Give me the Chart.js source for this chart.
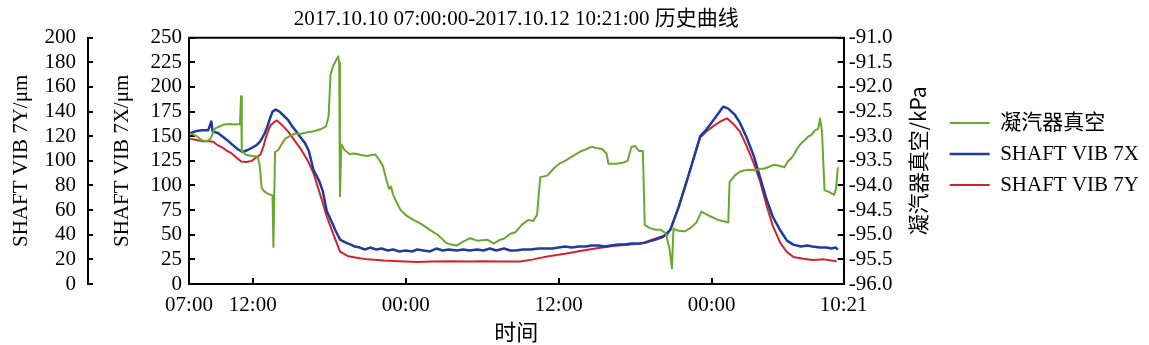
<!DOCTYPE html>
<html lang="zh">
<head>
<meta charset="UTF-8">
<title>历史曲线</title>
<script src="https://cdn.jsdelivr.net/npm/chart.js"></script>
<style>
  body { margin: 0; background: #fff; }
  canvas { display: block; }
</style>
</head>
<body>
<canvas id="chart" width="1149" height="345"></canvas>
<script>
// time axis: hours after 2017.10.10 07:00
const tickHours = [0, 5, 17, 29, 41, 51.35];
const tickLabels = ['07:00', '12:00', '00:00', '12:00', '00:00', '10:21'];

// 凝汽器真空 (kPa)
const vacHours = [0.2, 0.6, 1.0, 1.4, 1.7, 2.0, 2.4, 2.8, 3.2, 3.6, 4.0, 4.08, 4.14, 4.5, 5.0, 5.4, 5.55, 5.7, 5.9, 6.2, 6.55, 6.62, 6.75, 7.0, 7.3, 7.55, 7.9, 8.3, 8.8, 9.3, 9.8, 10.3, 10.75, 10.95, 11.1, 11.3, 11.55, 11.7, 11.78, 11.84, 11.95, 12.2, 12.6, 13.0, 13.5, 14.0, 14.3, 14.6, 14.9, 15.2, 15.5, 15.7, 15.85, 16.0, 16.3, 16.6, 17.0, 17.6, 18.2, 18.9, 19.5, 20.2, 20.6, 21.0, 21.5, 22.05, 22.6, 23.4, 23.9, 24.4, 24.7, 25.2, 25.6, 26.1, 26.6, 27.0, 27.3, 27.55, 28.1, 28.7, 29.1, 29.5, 30.0, 30.7, 31.1, 31.6, 31.9, 32.4, 32.75, 32.9, 33.5, 34.0, 34.4, 34.7, 35.0, 35.3, 35.6, 35.75, 36.1, 36.6, 37.0, 37.4, 37.7, 37.88, 38.0, 38.4, 38.9, 39.4, 39.8, 40.2, 40.7, 41.0, 41.5, 42.0, 42.3, 42.4, 42.8, 43.2, 43.6, 44.0, 44.4, 44.8, 45.1, 45.5, 45.9, 46.3, 46.7, 47.0, 47.2, 47.5, 47.7, 48.0, 48.3, 48.6, 48.8, 49.1, 49.35, 49.5, 49.65, 49.85, 50.2, 50.6, 50.75, 50.9];
const vacValues = [-92.95, -93.0, -93.08, -93.1, -93.05, -92.85, -92.8, -92.76, -92.75, -92.76, -92.75, -92.19, -93.3, -93.38, -93.4, -93.42, -93.6, -94.05, -94.12, -94.17, -94.2, -95.25, -93.32, -93.28, -93.15, -93.05, -93.0, -92.95, -92.95, -92.92, -92.9, -92.86, -92.8, -92.6, -91.75, -91.58, -91.45, -91.38, -91.5, -94.22, -93.17, -93.28, -93.36, -93.35, -93.38, -93.4, -93.38, -93.37, -93.47, -93.6, -93.9, -94.07, -94.02, -94.18, -94.35, -94.5, -94.6, -94.7, -94.78, -94.9, -95.0, -95.17, -95.2, -95.22, -95.14, -95.07, -95.12, -95.1, -95.18, -95.1, -95.08, -94.98, -94.95, -94.8, -94.7, -94.72, -94.6, -93.83, -93.8, -93.63, -93.55, -93.5, -93.42, -93.31, -93.27, -93.21, -93.24, -93.26, -93.35, -93.56, -93.56, -93.54, -93.5, -93.22, -93.2, -93.3, -93.3, -94.8, -94.86, -94.9, -94.9, -94.97, -95.3, -95.68, -94.88, -94.92, -94.93, -94.85, -94.75, -94.53, -94.6, -94.64, -94.7, -94.73, -94.75, -93.93, -93.8, -93.72, -93.69, -93.68, -93.69, -93.66, -93.66, -93.62, -93.58, -93.6, -93.63, -93.5, -93.46, -93.35, -93.25, -93.15, -93.08, -93.0, -92.98, -92.88, -92.85, -92.64, -92.9, -94.1, -94.13, -94.19, -94.07, -93.63];

// SHAFT VIB 7X (μm)
const vib7xHours = [0.1, 0.5, 1.0, 1.5, 1.75, 1.85, 2.3, 2.6, 3.0, 3.35, 3.8, 4.2, 4.6, 4.9, 5.3, 5.6, 5.9, 6.1, 6.35, 6.55, 6.8, 7.1, 7.5, 7.8, 8.1, 8.4, 8.8, 9.1, 9.4, 9.76, 10.2, 10.5, 10.8, 11.2, 11.5, 11.85, 12.3, 12.7, 13.0, 13.4, 13.8, 14.2, 14.7, 15.1, 15.6, 16.0, 16.5, 17.0, 17.5, 17.9, 18.4, 18.9, 19.4, 19.9, 20.4, 21.0, 21.5, 22.0, 22.6, 23.1, 23.6, 24.1, 24.7, 25.2, 25.6, 26.2, 26.8, 27.4, 28.0, 28.5, 29.0, 29.5, 30.0, 30.6, 31.1, 31.6, 32.1, 32.6, 33.1, 33.7, 34.2, 34.7, 35.3, 35.8, 36.3, 36.8, 37.2, 37.75, 38.4, 39.1, 39.6, 40.1, 40.6, 41.0, 41.4, 41.9, 42.3, 42.8, 43.2, 43.7, 44.3, 44.8, 45.3, 45.8, 46.4, 46.9, 47.4, 48.0, 48.5, 48.9, 49.5, 50.0, 50.4, 50.7, 50.9];
const vib7xValues = [153, 155, 156, 156, 165, 155, 153, 150, 146, 142, 137, 134, 136, 138, 141, 145, 152, 158, 168, 175, 177, 175, 170, 166, 160, 155, 148, 143, 135, 116, 105, 94, 74, 63, 54, 45, 42, 40, 38, 37, 35, 37, 35, 36, 34, 35, 33, 34, 33, 35, 34, 33, 36, 34, 35, 34, 35, 34, 35, 34, 36, 34, 36, 34, 34, 35, 35, 36, 36, 36, 37, 38, 37, 38, 38, 39, 39, 38, 39, 40, 40, 41, 41, 42, 44, 46, 48, 55, 78, 107, 128, 150, 157, 164, 171, 180, 178, 172, 164, 150, 130, 108, 86, 68, 54, 44, 40, 38, 39, 38, 37, 37, 36, 37, 35];

// SHAFT VIB 7Y (μm)
const vib7yHours = [0.1, 0.6, 1.0, 1.5, 1.9, 2.2, 2.6, 3.0, 3.35, 3.8, 4.1, 4.5, 4.92, 5.3, 5.6, 5.85, 6.0, 6.2, 6.4, 6.75, 6.9, 7.27, 7.8, 8.32, 8.84, 9.37, 9.76, 10.4, 10.8, 11.46, 11.85, 12.5, 13.4, 14.0, 15.3, 16.5, 17.9, 19.0, 20.5, 22.0, 23.1, 24.5, 26.0, 26.9, 28.2, 29.5, 30.8, 32.0, 33.4, 35.4, 36.5, 37.5, 37.8, 38.4, 39.1, 39.6, 40.1, 40.6, 41.1, 41.7, 42.2, 42.7, 43.2, 43.7, 44.3, 44.8, 45.3, 45.8, 46.4, 46.9, 47.4, 48.2, 48.9, 49.8, 50.4, 50.8];
const vib7yValues = [118, 117, 116, 116, 115.5, 113, 111, 108, 106, 102, 99.5, 99, 100, 103, 105, 112, 118, 124, 129, 132, 132.8, 129.4, 123.5, 116, 108.5, 99, 90, 69, 55, 36.6, 26.3, 22.5, 20.9, 20, 19, 18.5, 17.8, 18.2, 18.5, 18.3, 18.5, 18.2, 18.3, 19.8, 22.5, 24.5, 27, 29, 31, 32.6, 36.6, 40, 45, 62, 85, 103, 119, 124, 128, 132, 134.5, 130, 124, 113, 98, 83, 64, 47, 33, 26, 22, 20.5, 19.5, 20, 19, 18.5];

const serif = "'Liberation Serif', 'Noto Sans CJK SC', serif";
const cjk = "'Noto Sans CJK SC', sans-serif";

function toPoints(hours, values) {
  return hours.map((h, i) => ({ x: h, y: values[i] }));
}

// plot frame (top edge) and the right axis title, which reads bottom-to-top
const framePlugin = {
  id: 'frame',
  afterDraw(chart) {
    const { ctx, chartArea } = chart;
    ctx.save();
    ctx.strokeStyle = '#000';
    ctx.lineWidth = 2;
    ctx.beginPath();
    ctx.moveTo(chartArea.left - 1, chartArea.top);
    ctx.lineTo(chartArea.right + 1, chartArea.top);
    ctx.stroke();
    const s = chart.scales.yVac;
    ctx.translate(s.right - 22, (chartArea.top + chartArea.bottom) / 2);
    ctx.rotate(-Math.PI / 2);
    ctx.font = '21px ' + cjk;
    ctx.fillStyle = '#000';
    ctx.textAlign = 'center';
    ctx.textBaseline = 'middle';
    ctx.fillText('凝汽器真空/kPa', 0, 0);
    ctx.restore();
  }
};

function yAxis(opts) {
  return {
    type: 'linear',
    position: opts.position,
    weight: opts.weight,
    min: opts.min,
    max: opts.max,
    ticks: {
      stepSize: opts.step,
      autoSkip: false,
      padding: opts.padding,
      color: '#000',
      font: { family: serif, size: 21 },
      callback: opts.callback
    },
    grid: { drawOnChartArea: false, tickLength: opts.tick, color: '#000', lineWidth: 2 },
    border: { color: '#000', width: 2 },
    title: opts.title ? {
      display: true, text: opts.title, color: '#000',
      font: { family: serif, size: 21 },
      padding: { top: opts.titlePad, bottom: 0 }
    } : { display: false },
    afterFit: (s) => { s.width = opts.width; }
  };
}

new Chart(document.getElementById('chart'), {
  type: 'line',
  data: {
    datasets: [{
      label: '凝汽器真空',
      data: toPoints(vacHours, vacValues),
      yAxisID: 'yVac',
      borderColor: '#68a832',
      borderWidth: 2
    }, {
      label: 'SHAFT VIB 7X',
      data: toPoints(vib7xHours, vib7xValues),
      yAxisID: 'y7x',
      borderColor: '#1f3c9c',
      borderWidth: 2.5
    }, {
      label: 'SHAFT VIB 7Y',
      data: toPoints(vib7yHours, vib7yValues),
      yAxisID: 'y7y',
      borderColor: '#d0232b',
      borderWidth: 2
    }]
  },
  options: {
    responsive: false,
    animation: false,
    devicePixelRatio: 1,
    layout: { padding: 0 },
    elements: {
      point: { radius: 0, pointStyle: 'line' },
      line: { tension: 0, borderJoinStyle: 'round' }
    },
    scales: {
      x: {
        type: 'linear',
        position: 'bottom',
        min: 0,
        max: 51.35,
        afterBuildTicks: (s) => { s.ticks = tickHours.map(v => ({ value: v })); },
        ticks: {
          autoSkip: false,
          maxRotation: 0,
          padding: 15,
          color: '#000',
          font: { family: serif, size: 21 },
          callback: (v, i) => tickLabels[i]
        },
        grid: { drawOnChartArea: false, tickLength: -6, color: '#000', lineWidth: 2 },
        border: { color: '#000', width: 2 },
        title: {
          display: true, text: '时间', color: '#000',
          font: { family: cjk, size: 22 },
          padding: { top: 0, bottom: 0 }
        },
        afterFit: (s) => { s.height = 61; }
      },
      y7y: yAxis({ position: 'left', weight: 2, min: 0, max: 200, step: 20, padding: 17, tick: -5,
        title: 'SHAFT VIB 7Y/μm', titlePad: 9, width: 88 }),
      y7x: yAxis({ position: 'left', weight: 1, min: 0, max: 250, step: 25, padding: 13, tick: -6,
        title: 'SHAFT VIB 7X/μm', titlePad: 22, width: 101 }),
      yVac: yAxis({ position: 'right', weight: 0, min: -96, max: -91, step: 0.5, padding: 11, tick: -6,
        callback: (v) => v.toFixed(1), width: 96 })
    },
    plugins: {
      title: {
        display: true,
        fullSize: false,
        text: '2017.10.10 07:00:00-2017.10.12 10:21:00 历史曲线',
        color: '#000',
        font: { family: serif, size: 21, weight: 'normal' },
        padding: { top: 7, bottom: 5.5 }
      },
      legend: {
        position: 'right',
        align: 'start',
        maxWidth: 230,
        title: { display: true, text: '', font: { size: 10 }, padding: { top: 90.5, bottom: 0 } },
        labels: {
          usePointStyle: true,
          pointStyle: 'line',
          pointStyleWidth: 40,
          padding: 10,
          color: '#000',
          font: { family: serif, size: 21 }
        }
      },
      tooltip: { enabled: false }
    }
  },
  plugins: [framePlugin]
});
</script>
</body>
</html>
